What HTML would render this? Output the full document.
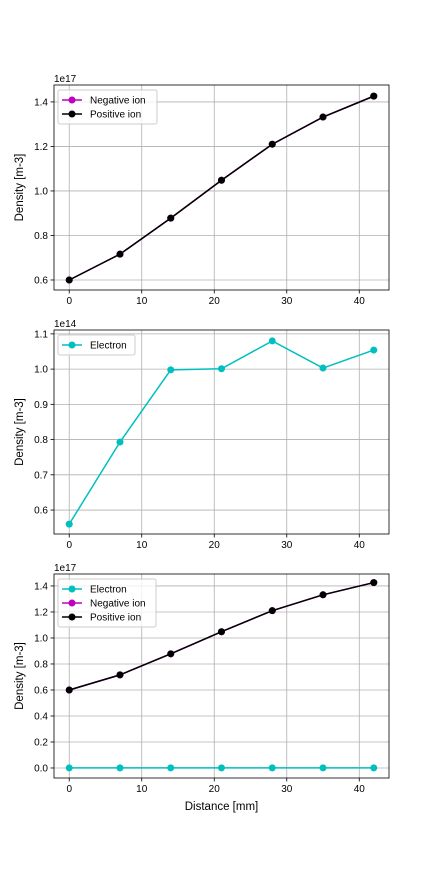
<!DOCTYPE html>
<html><head><meta charset="utf-8"><style>
body{margin:0;background:#fff;font-family:"Liberation Sans","DejaVu Sans",sans-serif}
svg text{font-family:"Liberation Sans","DejaVu Sans",sans-serif}
</style></head><body>
<svg id="fig" width="432" height="864" xmlns="http://www.w3.org/2000/svg"></svg>
<script>
const distances=[0,7,14,21,28,35,42];
const negIon=[0.600,0.716,0.878,1.048,1.210,1.332,1.426];
const posIon=[0.600,0.716,0.878,1.048,1.210,1.332,1.426];
const electron14=[0.560,0.793,0.998,1.001,1.080,1.003,1.054];
const electron17=[0.00056,0.00079,0.00100,0.00100,0.00108,0.00100,0.00105];
const xTicks=[0,10,20,30,40];
const yTicks1=[0.6,0.8,1.0,1.2,1.4];
const yTicks2=[0.6,0.7,0.8,0.9,1.0,1.1];
const yTicks3=[0.0,0.2,0.4,0.6,0.8,1.0,1.2,1.4];
const NS="http://www.w3.org/2000/svg";
const svg=document.getElementById('fig');
function el(t,a,p){const e=document.createElementNS(NS,t);for(const k in a)e.setAttribute(k,a[k]);(p||svg).appendChild(e);return e;}
function panel(name,top,bot,ymin,ymax,yt,exp,series,legend){
 const L=54,R=389;
 const g=el('g',{});
 
 
 const xs=v=>L+(v+2.1)/(46.2)*(R-L);
 const ys=v=>bot-(v-ymin)/(ymax-ymin)*(bot-top);
 xTicks.forEach(t=>{const x=xs(t);
  const gl=el('line',{x1:x,x2:x,y1:top,y2:bot,stroke:'#b0b0b0','stroke-width':0.8},g);
  
  el('line',{x1:x,x2:x,y1:bot,y2:bot+3.5,stroke:'#000','stroke-width':0.8},g);
  const tx=el('text',{x:x,y:bot+14,'font-size':10,'text-anchor':'middle'},g);tx.textContent=t;
  });
 yt.forEach(t=>{const y=ys(t);
  const gl=el('line',{x1:L,x2:R,y1:y,y2:y,stroke:'#b0b0b0','stroke-width':0.8},g);
  
  el('line',{x1:L-3.5,x2:L,y1:y,y2:y,stroke:'#000','stroke-width':0.8},g);
  const tx=el('text',{x:L-6,y:y+3.5,'font-size':10,'text-anchor':'end'},g);tx.textContent=t.toFixed(1);
  });
 const ex=el('text',{x:L,y:top-3,'font-size':10},g);ex.textContent=exp;
 
 const yl=el('text',{x:23,y:(top+bot)/2,'font-size':11.5,'text-anchor':'middle',transform:`rotate(-90 23 ${(top+bot)/2})`},g);
 yl.textContent='Density [m-3]';
 
 series.forEach(s=>{
  const pl=el('polyline',{points:distances.map((d,i)=>xs(d)+','+ys(s.v[i])).join(' '),fill:'none',stroke:s.c,'stroke-width':1.5},g);
  
  distances.forEach((d,i)=>{const c=el('circle',{cx:xs(d),cy:ys(s.v[i]),r:3.5,fill:s.c},g);
   });
 });
 el('rect',{x:L,y:top,width:R-L,height:bot-top,fill:'none',stroke:'#000','stroke-width':0.8},g);
 const lg=el('g',{},g);
 
 el('rect',{x:L+4,y:top+5,width:legend==3?98:(legend==1?77:99),height:legend==3?48:(legend==1?20:34),fill:'#fff','fill-opacity':0.8,stroke:'#ccc',rx:2},lg);
 const ls=legend==1?series.slice(0,1):series;
 ls.forEach((s,i)=>{const y=top+15+i*14;
  el('line',{x1:L+8,x2:L+28,y1:y,y2:y,stroke:s.c,'stroke-width':1.5},lg);
  el('circle',{cx:L+18,cy:y,r:3.5,fill:s.c},lg);
  const t=el('text',{x:L+36,y:y+3.5,'font-size':10},lg);t.textContent=s.label;
  });
 return xs;
}
panel('density-ion-chart',85,290,0.555,1.476,yTicks1,'1e17',[
 {n:'negative-ion',c:'#bf00bf',v:negIon,label:'Negative ion'},
 {n:'positive-ion',c:'#000',v:posIon,label:'Positive ion'}],2);
panel('density-electron-chart',330,534,0.532,1.111,yTicks2,'1e14',[
 {n:'electron',c:'#00bfbf',v:electron14,label:'Electron'}],1);
panel('density-all-chart',574,778,-0.077,1.492,yTicks3,'1e17',[
 {n:'electron',c:'#00bfbf',v:electron17,label:'Electron'},
 {n:'negative-ion',c:'#bf00bf',v:negIon,label:'Negative ion'},
 {n:'positive-ion',c:'#000',v:posIon,label:'Positive ion'}],3);
const xl=el('text',{x:221.5,y:810,'font-size':11.5,'text-anchor':'middle'});
xl.textContent='Distance [mm]';


</script>
</body></html>
